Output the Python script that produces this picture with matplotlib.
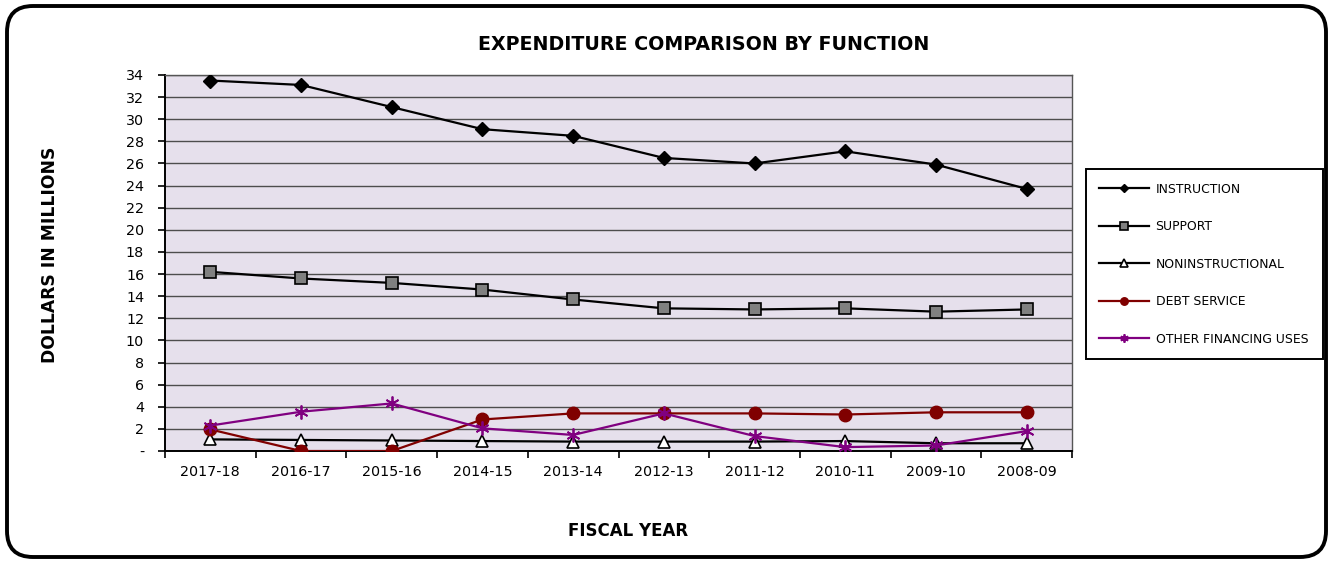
import matplotlib
matplotlib.use("Agg")
import matplotlib.pyplot as plt
from matplotlib.patches import FancyBboxPatch
from matplotlib.transforms import IdentityTransform
from matplotlib.ticker import FixedLocator

# Fiscal years and expenditure by function (dollars in millions)
years = ["2017-18", "2016-17", "2015-16", "2014-15", "2013-14",
         "2012-13", "2011-12", "2010-11", "2009-10", "2008-09"]
instruction = [33.5, 33.1, 31.1, 29.1, 28.5, 26.5, 26.0, 27.1, 25.9, 23.7]
support = [16.2, 15.6, 15.2, 14.6, 13.7, 12.9, 12.8, 12.9, 12.6, 12.8]
noninstructional = [1.05, 1.0, 0.95, 0.9, 0.85, 0.85, 0.85, 0.9, 0.7, 0.7]
debt_service = [1.95, 0.0, 0.0, 2.85, 3.4, 3.4, 3.4, 3.3, 3.5, 3.5]
other_financing = [2.3, 3.55, 4.3, 2.05, 1.45, 3.4, 1.35, 0.35, 0.5, 1.8]
y_ticks = list(range(0, 36, 2))
y_labels = ["-"] + [str(v) for v in y_ticks[1:]]

W, H, DPI = 1332, 561, 100
fig = plt.figure(figsize=(W / DPI, H / DPI), dpi=DPI)
fig.patch.set_facecolor("white")

# rounded outer frame
frame = FancyBboxPatch((7, 4), W - 13, H - 10,
                       boxstyle="round,pad=0,rounding_size=26",
                       transform=IdentityTransform(), facecolor="none",
                       edgecolor="black", linewidth=2.8, zorder=0)
fig.add_artist(frame)

ax = fig.add_axes([165 / W, 1 - 451 / H, (1072 - 165) / W, (451 - 75) / H])
ax.set_facecolor("#E6E0EC")

x = list(range(len(years)))
ax.plot(x, instruction, color="black", lw=1.6, marker="D", ms=7,
        mfc="black", mec="black", label="INSTRUCTION", zorder=5)
ax.plot(x, support, color="black", lw=1.6, marker="s", ms=9,
        mfc="#808080", mec="black", mew=1.2, label="SUPPORT", zorder=5)
ax.plot(x, noninstructional, color="black", lw=1.6, marker="^", ms=9,
        mfc="white", mec="black", mew=1.2, label="NONINSTRUCTIONAL", zorder=5)
ax.plot(x, debt_service, color="#800000", lw=1.6, marker="o", ms=9,
        mfc="#800000", mec="#800000", label="DEBT SERVICE", zorder=5)
ax.plot(x, other_financing, color="#800080", lw=1.6, marker=(6, 2, 0), ms=10,
        mfc="#800080", mec="#800080", mew=1.3, label="OTHER FINANCING USES",
        zorder=6)

ax.set_xlim(-0.5, len(years) - 0.5)
ax.set_ylim(0, 34)
ax.set_yticks(y_ticks)
ax.set_yticklabels(y_labels, fontsize=10.3)
ax.set_xticks(x)
ax.set_xticklabels(years, fontsize=10.3)
ax.tick_params(axis="x", which="major", length=0, pad=10)
ax.xaxis.set_minor_locator(FixedLocator([i - 0.5 for i in range(len(years) + 1)]))
ax.tick_params(axis="x", which="minor", length=5, width=1.2, direction="out")
ax.tick_params(axis="y", length=5, width=1.2, direction="out", pad=10)

ax.grid(axis="y", color="#4d4d4d", lw=1.0)
ax.set_axisbelow(True)
for side in ("left", "bottom"):
    ax.spines[side].set_color("black")
    ax.spines[side].set_linewidth(1.4)
for side in ("top", "right"):
    ax.spines[side].set_color("#555555")
    ax.spines[side].set_linewidth(1.0)

fig.text(704 / W, 1 - 44 / H, "EXPENDITURE COMPARISON BY FUNCTION",
         ha="center", va="center", fontsize=13.7, fontweight="bold")
fig.text(50 / W, 1 - 255 / H, "DOLLARS IN MILLIONS", rotation=90,
         ha="center", va="center", fontsize=12.3, fontweight="bold")
fig.text(628 / W, 1 - 531 / H, "FISCAL YEAR",
         ha="center", va="center", fontsize=12, fontweight="bold")

leg = ax.legend(loc="upper left",
                bbox_to_anchor=(1086 / W, 1 - 170 / H, (1323 - 1086) / W, 0.001),
                bbox_transform=fig.transFigure, mode="expand",
                fontsize=8.9, frameon=True, fancybox=False, framealpha=1,
                edgecolor="black", handlelength=4.0, handletextpad=0.55,
                labelspacing=1.98, borderpad=1.08, markerscale=0.6,
                borderaxespad=0)
leg.get_frame().set_linewidth(1.4)

fig.savefig("out.png", dpi=DPI, facecolor="white")
